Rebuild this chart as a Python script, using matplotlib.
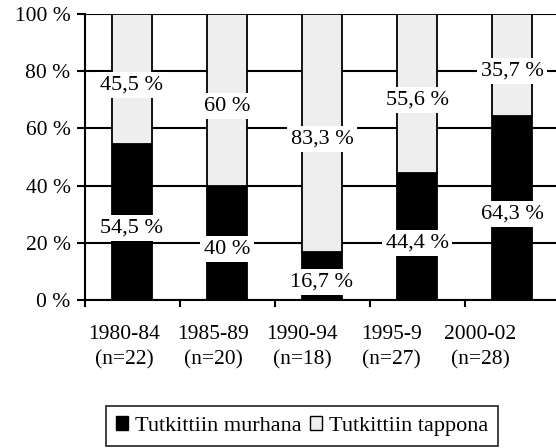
import numpy as np
import matplotlib.pyplot as plt
from matplotlib.patches import Patch

plt.rcParams['font.family'] = ['Liberation Serif', 'DejaVu Serif']

periods = ["1980-84", "1985-89", "1990-94", "1995-9", "2000-02"]
counts = [22, 20, 18, 27, 28]
murhana = np.array([54.5, 40, 16.7, 44.4, 64.3])
tappona = np.array([45.5, 60, 83.3, 55.6, 35.7])

fig = plt.figure(figsize=(5.56, 4.48), dpi=100)
ax = fig.add_axes([84.5/556, 148/448, 475/556, 286/448])

x = np.arange(len(periods))
w = 0.42
ax.bar(x, murhana, w, color='black', edgecolor='black', linewidth=1.3, zorder=2)
ax.bar(x, tappona, w, bottom=murhana, color='#eeeeee', edgecolor='black', linewidth=1.3, zorder=2)

def fmt(v):
    s = ('%g' % v).replace('.', ',')
    return s + ' %'

box = dict(facecolor='white', edgecolor='none', pad=2.5)
for i in range(len(x)):
    ax.text(x[i], murhana[i] / 2 - 2.2, fmt(murhana[i]), ha='center', va='center',
            fontsize=16, bbox=box, zorder=3)
    ax.text(x[i], murhana[i] + tappona[i] / 2 - 2.2, fmt(tappona[i]), ha='center', va='center',
            fontsize=16, bbox=box, zorder=3)

ax.set_xlim(-0.5, len(x) - 0.5)
ax.set_ylim(0, 100)
ax.set_yticks(np.arange(0, 101, 20))
ax.set_yticklabels(['%d %%' % t for t in range(0, 101, 20)], fontsize=15.5)
ax.yaxis.grid(True, color='black', linewidth=1.5, zorder=1)
ax.set_axisbelow(True)

# category labels sit a little left of the bars, drifting further left
label_pos = x - 0.084 - 0.063 * x
ax.set_xticks(label_pos)
ax.set_xticklabels(['%s\n(n=%d)' % (p, n) for p, n in zip(periods, counts)], fontsize=15.5,
                   linespacing=1.45)
ax.set_xticks(np.arange(-0.5, len(x), 1), minor=True)
ax.tick_params(axis='x', which='major', length=0, pad=18)
ax.tick_params(axis='x', which='minor', length=5, width=1.5, direction='out')
ax.tick_params(axis='y', length=6, width=1.5, direction='out', pad=4)

for s in ['top', 'right']:
    ax.spines[s].set_visible(False)
for s in ['left', 'bottom']:
    ax.spines[s].set_linewidth(1.5)

handles = [Patch(facecolor='black', edgecolor='black', label='Tutkittiin murhana'),
           Patch(facecolor='#eeeeee', edgecolor='black', label='Tutkittiin tappona')]
leg = fig.legend(handles=handles, loc='lower center', bbox_to_anchor=(302/556, 0.0), ncol=2,
                 fontsize=16, frameon=True, fancybox=False, handlelength=0.55, handleheight=0.55,
                 handletextpad=0.3, columnspacing=0.4, borderpad=0.45, borderaxespad=0.1)
leg.get_frame().set_edgecolor('black')
leg.get_frame().set_linewidth(1.3)

fig.savefig('out.png', dpi=100)
